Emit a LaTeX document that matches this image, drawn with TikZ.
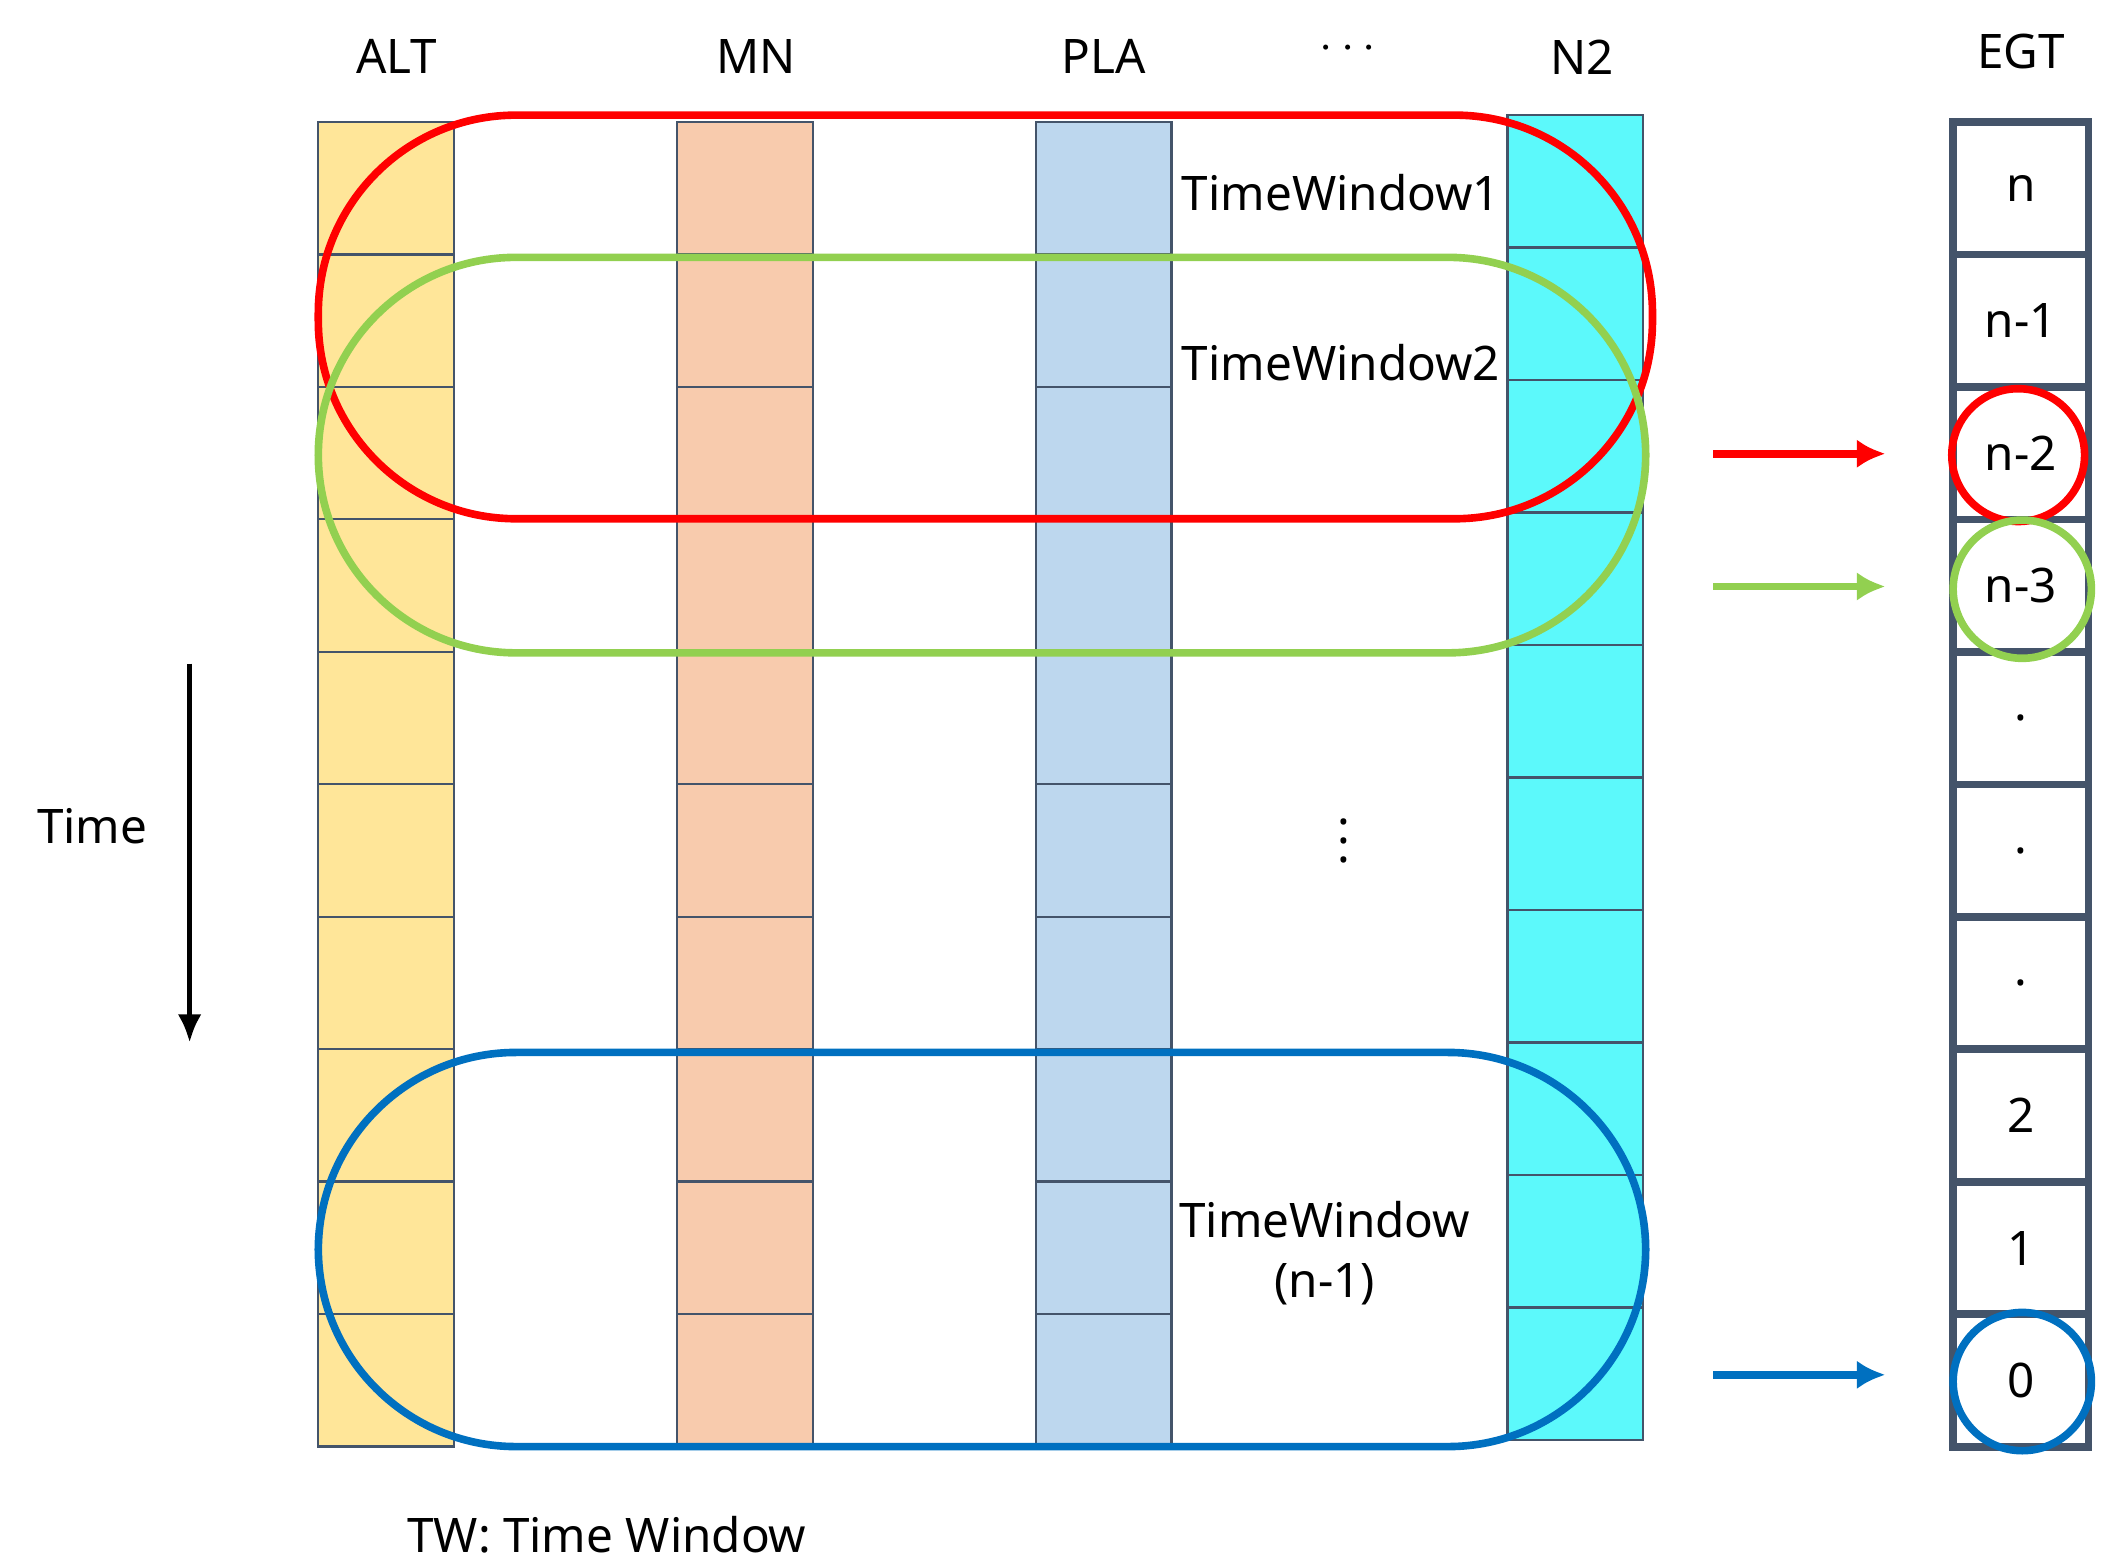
\documentclass[tikz,border=0pt]{standalone}
\usepackage{fontspec}
\setmainfont{Noto Sans}
\usetikzlibrary{arrows.meta}
\begin{document}
\begin{tikzpicture}[x=0.01cm,y=-0.01cm,
  cell/.style={draw=gridc,line width=0.5pt},
  win/.style={line width=1.6pt,rounded corners=1.46cm},
  lab/.style={font=\fontsize{10}{12.5}\selectfont},
  arr/.style={line width=1.6pt,-{Latex[length=6pt,width=6pt]}}]
\definecolor{gridc}{HTML}{44546A}
\definecolor{altc}{HTML}{FFE699}
\definecolor{mnc}{HTML}{F8CBAD}
\definecolor{plac}{HTML}{BDD7EE}
\definecolor{n2c}{HTML}{5CF9FB}
\definecolor{redw}{HTML}{FF0000}
\definecolor{greenw}{HTML}{92D050}
\definecolor{bluew}{HTML}{0070C0}
\useasboundingbox (0,0) rectangle (1560,1152);
% columns
\foreach \x/\c/\t in {235/altc/90,500/mnc/90,765/plac/90,1113/n2c/85}{
  \fill[\c] (\x,\t) rectangle (\x+100,\t+978);
  \foreach \i in {0,...,9}{
    \draw[cell] (\x,\t+\i*97.8) rectangle (\x+100,\t+\i*97.8+97.8);
  }
}
% EGT
\foreach \i/\l in {0/n,1/n-1,2/n-2,3/n-3,4/.,5/.,6/.,7/2,8/1,9/0}{
  \node[draw=gridc,line width=1.6pt,minimum width=1cm,minimum height=0.978cm,inner sep=0,font=\fontsize{10}{12.5}\selectfont\bfseries] (e\i) at (1492,139+\i*97.8) {\l};
}
% headers
\node[lab] (hALT) at (293,42) {ALT};
\node[lab] (hMN) at (558,42) {MN};
\node[lab] (hPLA) at (815,42) {PLA};
\node[lab] (hdots) at (995,36) {$\cdots$};
\node[lab] (hN2) at (1168,42) {N2};
\node[lab] (hEGT) at (1492,38) {EGT};
% windows
\draw[win,redw] (235,85) rectangle (1220,383);
\draw[win,greenw] (235,190) rectangle (1215,482);
\draw[win,bluew] (235,777) rectangle (1215,1068);
\node[lab] (tw1) at (990,142) {TimeWindow1};
\node[lab] (tw2) at (990,268) {TimeWindow2};
\node[lab,align=center] (twn) at (978,925) {TimeWindow\\(n-1)};
\node[lab] (vd) at (992,610) {$\vdots$};
% time
\node[lab] (time) at (68,610) {Time};
\coordinate (ts) at (140,490);
\coordinate (te) at (140,770);
\draw[line width=1.2pt,-{Latex[length=6pt,width=5pt]}] (ts) -- (te);
% arrows
\coordinate (ra) at (1265,335); \coordinate (rb) at (1392,335);
\coordinate (ga) at (1265,433); \coordinate (gb) at (1392,433);
\coordinate (ba) at (1265,1015); \coordinate (bb) at (1392,1015);
\draw[arr,redw] (ra) -- (rb);
\draw[arr,greenw] (ga) -- (gb);
\draw[arr,bluew] (ba) -- (bb);
\draw[redw,line width=1.6pt] (1490,336) circle (0.49cm);
\draw[greenw,line width=1.6pt] (1493,435) circle (0.51cm);
\draw[bluew,line width=1.6pt] (1493,1020) circle (0.51cm);
\node[lab] (tw) at (448,1133) {TW: Time Window};
\end{tikzpicture}
\end{document}
